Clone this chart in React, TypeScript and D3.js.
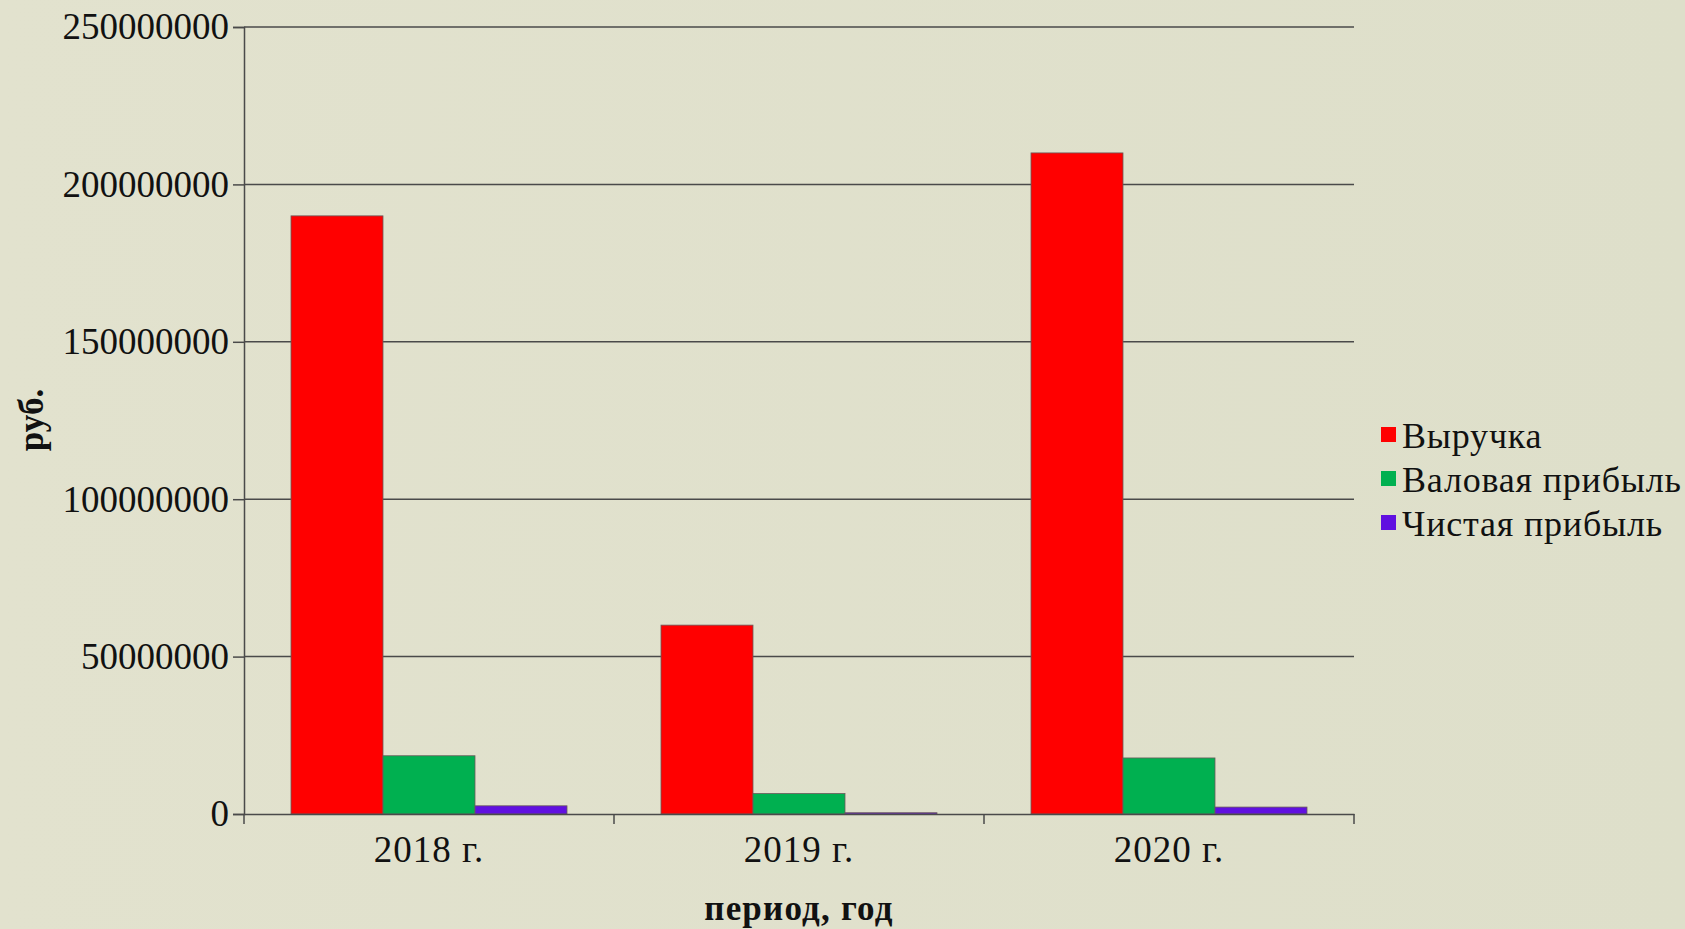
import React, { useRef, useEffect } from "react";
import * as d3 from "d3";

const years = ["2018 г.", "2019 г.", "2020 г."];
const seriesNames = ["Выручка", "Валовая прибыль", "Чистая прибыль"];
const seriesColors = ["#ff0000", "#00b050", "#6010e0"];
const revenue = [190000000, 60000000, 210000000];
const grossProfit = [18500000, 6500000, 17800000];
const netProfit = [2600000, 400000, 2200000];
const yTicks = [0, 50000000, 100000000, 150000000, 200000000, 250000000];

const W = 1685;
const H = 929;
const FONT = "'Liberation Serif', 'DejaVu Serif', serif";

function Chart() {
  const ref = useRef<SVGSVGElement>(null);

  useEffect(() => {
    const svg = d3.select(ref.current);
    svg.selectAll("*").remove();

    const margin = { top: 27, right: 331, bottom: 115, left: 244 };
    const innerW = W - margin.left - margin.right;
    const innerH = H - margin.top - margin.bottom;

    // background
    const grad = svg.append("defs").append("linearGradient").attr("id", "bg").attr("x1", "0").attr("x2", "1");
    grad.append("stop").attr("offset", "0").attr("stop-color", "#e2e2ce");
    grad.append("stop").attr("offset", "1").attr("stop-color", "#dedfca");
    svg.append("rect").attr("width", W).attr("height", H).attr("fill", "url(#bg)");

    const g = svg.append("g").attr("transform", `translate(${margin.left},${margin.top})`);

    const x = d3.scaleBand<string>().domain(years).range([0, innerW]).paddingInner(0).paddingOuter(0);
    const inner = d3.scaleBand<string>().domain(seriesNames).range([47, x.bandwidth() - 47]);
    const y = d3.scaleLinear().domain([0, 250000000]).range([innerH, 0]);

    // gridlines
    g.selectAll("line.grid")
      .data(yTicks.filter((d) => d > 0))
      .enter()
      .append("line")
      .attr("x1", 0)
      .attr("x2", innerW)
      .attr("y1", (d) => y(d))
      .attr("y2", (d) => y(d))
      .attr("stroke", "#4a4a4a")
      .attr("stroke-width", 1.5);

    // y axis
    const yAxis = d3.axisLeft(y).tickValues(yTicks).tickSize(11).tickPadding(4).tickFormat((d) => String(d));
    const yG = g.append("g").call(yAxis);
    yG.select(".domain").attr("stroke", "#4a4a4a").attr("stroke-width", 1.5);
    yG.selectAll("line").attr("stroke", "#4a4a4a").attr("stroke-width", 1.5);
    yG.selectAll("text")
      .attr("font-family", FONT)
      .attr("font-size", 37)
      .attr("fill", "#111");

    // bars
    const data = [revenue, grossProfit, netProfit];
    years.forEach((yr, i) => {
      seriesNames.forEach((s, j) => {
        const v = data[j][i];
        g.append("rect")
          .attr("x", (x(yr) as number) + (inner(s) as number))
          .attr("y", y(v))
          .attr("width", inner.bandwidth())
          .attr("height", innerH - y(v))
          .attr("fill", seriesColors[j])
          .attr("stroke", "#6a5a5a")
          .attr("stroke-width", 0.8);
      });
    });

    // x axis
    const xAxis = d3.axisBottom(x).tickSize(0).tickPadding(22);
    const xG = g.append("g").attr("transform", `translate(0,${innerH})`).call(xAxis);
    xG.select(".domain").attr("stroke", "#4a4a4a").attr("stroke-width", 1.5);
    xG.selectAll("text")
      .attr("font-family", FONT)
      .attr("font-size", 37)
      .attr("letter-spacing", 1)
      .attr("fill", "#111");
    // category boundary ticks
    g.selectAll("line.xtick")
      .data([0, 1, 2, 3])
      .enter()
      .append("line")
      .attr("x1", (d) => d * x.bandwidth())
      .attr("x2", (d) => d * x.bandwidth())
      .attr("y1", innerH)
      .attr("y2", innerH + 10)
      .attr("stroke", "#4a4a4a")
      .attr("stroke-width", 1.5);

    // axis titles
    svg.append("text")
      .attr("x", margin.left + innerW / 2)
      .attr("y", 920)
      .attr("text-anchor", "middle")
      .attr("font-family", FONT)
      .attr("font-weight", "bold")
      .attr("font-size", 35)
      .attr("letter-spacing", 1.2)
      .attr("fill", "#111")
      .text("период, год");

    svg.append("text")
      .attr("transform", `translate(43,420) rotate(-90)`)
      .attr("text-anchor", "middle")
      .attr("font-family", FONT)
      .attr("font-weight", "bold")
      .attr("font-size", 35)
      .attr("fill", "#111")
      .text("руб.");

    // legend
    const lg = svg.append("g").attr("transform", "translate(1381,435)");
    seriesNames.forEach((s, i) => {
      const row = lg.append("g").attr("transform", `translate(0,${i * 44})`);
      row.append("rect").attr("x", 0).attr("y", -8).attr("width", 15).attr("height", 15).attr("fill", seriesColors[i]);
      row.append("text")
        .attr("x", 21)
        .attr("y", 0)
        .attr("dy", "0.35em")
        .attr("font-family", FONT)
        .attr("font-size", 36)
        .attr("letter-spacing", 0.8)
        .attr("fill", "#111")
        .text(s);
    });
  }, []);

  return <svg ref={ref} width={W} height={H} style={{ display: "block" }} />;
}

export default function App() {
  return (
    <div style={{ position: "absolute", left: 0, top: 0, width: W, height: H }}>
      <Chart />
    </div>
  );
}
